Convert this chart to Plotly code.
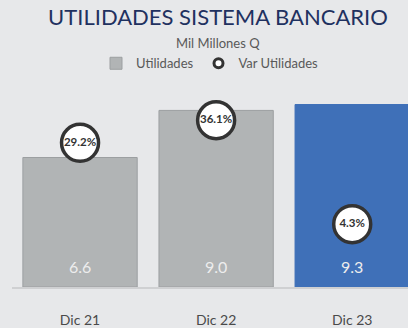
import plotly.graph_objects as go

# Data
categories = ["Dic 21", "Dic 22", "Dic 23"]
utilidades = [6.6, 9.0, 9.3]          # Mil Millones Q
var_utilidades = [29.2, 36.1, 4.3]    # % variation
bar_colors = ["#B1B4B5", "#B1B4B5", "#3F70B8"]
bar_lines = ["#9C9FA1", "#9C9FA1", "#3F70B8"]

W, H = 408, 328
FONT = "Lato"

fig = go.Figure()

fig.add_trace(go.Bar(
    x=categories, y=utilidades, name="Utilidades",
    marker=dict(color=bar_colors, line=dict(color=bar_lines, width=1)),
    width=0.84, showlegend=False, hoverinfo="skip",
))

fig.add_trace(go.Scatter(
    x=categories, y=var_utilidades, name="Var Utilidades", yaxis="y2",
    mode="markers",
    marker=dict(size=37, color="white", line=dict(color="#333333", width=3.5)),
    showlegend=False, hoverinfo="skip",
))

fig.add_trace(go.Scatter(
    x=categories, y=var_utilidades, yaxis="y2", mode="text",
    text=[f"{v:.1f}%" for v in var_utilidades],
    textfont=dict(family=FONT, size=11.5, color="#333333", weight="bold"),
    textposition="middle center", showlegend=False, hoverinfo="skip",
))

# legend entries
fig.add_trace(go.Bar(
    x=[None], y=[None], name="Utilidades",
    marker=dict(color="#B1B4B5", line=dict(color="#9C9FA1", width=1)),
))
fig.add_trace(go.Scatter(
    x=[None], y=[None], name="Var Utilidades", mode="markers",
    marker=dict(size=9, color="white", line=dict(color="#333333", width=3)),
))

# value labels at the base of each bar
for c, v in zip(categories, utilidades):
    fig.add_annotation(
        x=c, y=0, xref="x", yref="y", text=f"{v:.1f}",
        showarrow=False, yanchor="bottom", yshift=9,
        font=dict(family=FONT, size=16, color="#EDEDED"),
    )

fig.add_annotation(
    x=(218 - 12) / 396, y=(291 - 42) / 211, xref="paper", yref="paper",
    text="Mil Millones Q", showarrow=False,
    font=dict(family=FONT, size=13, color="#595959"),
    xanchor="center", yanchor="middle",
)

fig.update_layout(
    width=W, height=H,
    margin=dict(l=12, r=0, t=80, b=37),
    paper_bgcolor="#E7E8EA", plot_bgcolor="#E7E8EA",
    title=dict(
        text="UTILIDADES SISTEMA BANCARIO",
        x=218 / W, xanchor="center", y=1 - 17 / H, yanchor="middle",
        font=dict(family=FONT, size=22, color="#1F3160"),
    ),
    barmode="overlay",
    legend=dict(
        orientation="h", x=(210 - 12) / 396, xanchor="center",
        y=(291 - 63) / 211, yanchor="middle",
        font=dict(family=FONT, size=13, color="#595959"),
        bgcolor="rgba(0,0,0,0)", itemwidth=30,
    ),
    xaxis=dict(
        type="category", range=[-0.5, 2.41], showgrid=False,
        showline=True, linecolor="#CFD0D2", linewidth=1.5,
        ticks="", ticklabelstandoff=19,
        tickfont=dict(family=FONT, size=14, color="#4A4A4A"),
        fixedrange=True,
    ),
    yaxis=dict(range=[0, 10.55], visible=False, fixedrange=True),
    yaxis2=dict(range=[-14.9, 48.4], overlaying="y", visible=False,
                fixedrange=True),
)

fig.write_html("out.html")
